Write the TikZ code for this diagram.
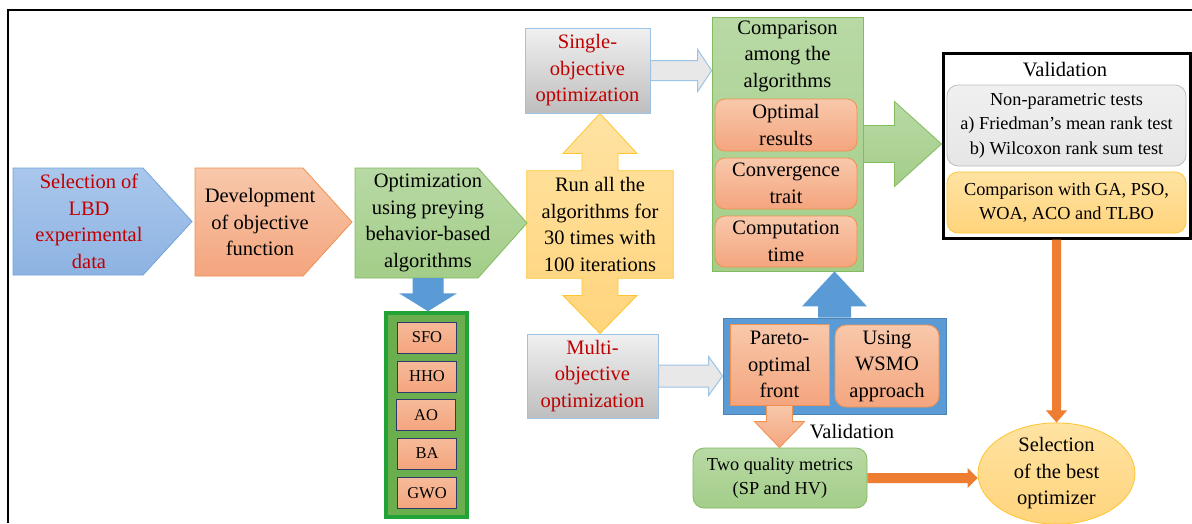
\documentclass[tikz,border=0pt]{standalone}
\usepackage{fontspec}
\setmainfont{Liberation Serif}
\usetikzlibrary{calc,shapes.geometric}

\definecolor{redtxt}{HTML}{C00000}
\definecolor{blueTop}{HTML}{AAC7EC}
\definecolor{blueBot}{HTML}{8DB3E2}
\definecolor{blueLine}{HTML}{6FA5DA}
\definecolor{salTop}{HTML}{F8C8AB}
\definecolor{salBot}{HTML}{F4A57E}
\definecolor{salLine}{HTML}{F0914F}
\definecolor{grnTop}{HTML}{B8D9A4}
\definecolor{grnBot}{HTML}{A3CD89}
\definecolor{grnLine}{HTML}{82BB60}
\definecolor{ylwTop}{HTML}{FFE3A2}
\definecolor{ylwBot}{HTML}{FFD47C}
\definecolor{ylwLine}{HTML}{FFC52E}
\definecolor{gryTop}{HTML}{F0F0F0}
\definecolor{gryBot}{HTML}{BEBEBE}
\definecolor{skyLine}{HTML}{9DC3E6}
\definecolor{solidBlue}{HTML}{5B9BD5}
\definecolor{orangeArr}{HTML}{ED7D31}
\definecolor{listFill}{HTML}{6BAE4E}
\definecolor{listLine}{HTML}{22A338}
\definecolor{navy}{HTML}{2E3A6E}

\pgfdeclarelayer{canvas}
\pgfdeclarelayer{background}
\pgfsetlayers{canvas,background,main}

% block arrows between anchors: [style]{start}{end}{shaft half}{head half}{head length}
\newcommand{\rarrow}[6][]{%
  \path[#1] let \p1=(#2), \p2=(#3) in
    (\x1,\y1+#4pt) -- (\x2-#6pt,\y1+#4pt) -- (\x2-#6pt,\y1+#5pt) -- (\x2,\y1)
    -- (\x2-#6pt,\y1-#5pt) -- (\x2-#6pt,\y1-#4pt) -- (\x1,\y1-#4pt) -- cycle;}
\newcommand{\uarrow}[6][]{%
  \path[#1] let \p1=(#2), \p2=(#3) in
    (\x1-#4pt,\y1) -- (\x1-#4pt,\y2-#6pt) -- (\x1-#5pt,\y2-#6pt) -- (\x1,\y2)
    -- (\x1+#5pt,\y2-#6pt) -- (\x1+#4pt,\y2-#6pt) -- (\x1+#4pt,\y1) -- cycle;}
\newcommand{\darrow}[6][]{%
  \path[#1] let \p1=(#2), \p2=(#3) in
    (\x1-#4pt,\y1) -- (\x1-#4pt,\y2+#6pt) -- (\x1-#5pt,\y2+#6pt) -- (\x1,\y2)
    -- (\x1+#5pt,\y2+#6pt) -- (\x1+#4pt,\y2+#6pt) -- (\x1+#4pt,\y1) -- cycle;}

\begin{document}
\begin{tikzpicture}[x=1pt,y=-1pt,
  txt/.style={font=\fontsize{20.5}{26.5}\selectfont, align=center, inner sep=0pt},
  smalltxt/.style={font=\fontsize{18.3}{24.5}\selectfont, align=center, inner sep=0pt},
  algtxt/.style={font=\fontsize{16.5}{18}\selectfont, align=center, inner sep=0pt},
  bluefill/.style={top color=blueTop, bottom color=blueBot, draw=blueLine, line width=0.8pt},
  salfill/.style={top color=salTop, bottom color=salBot, draw=salLine, line width=0.8pt},
  grnfill/.style={top color=grnTop, bottom color=grnBot, draw=grnLine, line width=0.8pt},
  ylwfill/.style={top color=ylwTop, bottom color=ylwBot, draw=ylwLine, line width=0.8pt},
  gryfill/.style={top color=gryTop, bottom color=gryBot, draw=skyLine, line width=1pt},
  subbox/.style={salfill, rounded corners=10pt, minimum width=142, txt},
  algbox/.style={algtxt, top color=salTop!60!salBot, bottom color=salBot, draw=navy, line width=0.9pt,
    minimum width=59, minimum height=31},
  greyarrow/.style={fill=gryTop!85!gryBot, draw=skyLine, line width=1pt},
]
\useasboundingbox (0,0) rectangle (1192,523);
\begin{pgfonlayer}{canvas}
  \fill[white] (0,0) rectangle (1192,523);
\end{pgfonlayer}

% outer frame
\draw[line width=2.8pt] (8,523) -- (8,10) -- (1192,10);

% first three process steps (pentagon arrows)
\path[bluefill] (13,168) -- (143,168) -- (192,221.5) -- (143,275) -- (13,275) -- cycle;
\path[salfill] (195,168) -- (303,168) -- (352,222) -- (303,276) -- (195,276) -- cycle;
\path[grnfill] (355,168) -- (478,168) -- (527,223) -- (478,278) -- (355,278) -- cycle;

\node[txt, text=redtxt, minimum height=107] (sel) at (89,221.5)
  {Selection of\\LBD\\experimental\\data};
\node[txt, minimum height=108] (dev) at (260,222)
  {Development\\of objective\\function};
\node[txt, minimum height=110] (opt) at (428,223)
  {Optimization\\using preying\\behavior-based\\algorithms};

% single / multi objective
\node[txt, gryfill, text=redtxt, minimum width=125, minimum height=85] (single) at (587.5,70.5)
  {Single-\\objective\\optimization};
\node[txt, gryfill, text=redtxt, minimum width=131, minimum height=84] (multi) at (592.5,376)
  {Multi-\\objective\\optimization};

% run box with its double block arrow, drawn as one outline
\node[txt, minimum width=146, minimum height=107] (run) at (600,224.5)
  {Run all the\\algorithms for\\30 times with\\100 iterations};
\begin{pgfonlayer}{background}
  \path[top color=ylwTop, bottom color=ylwBot, draw=ylwLine, line width=0.8pt]
    let \p1=(run.north west), \p2=(run.south east), \p0=(run.center),
        \p3=(single.south), \p4=(multi.north) in
    (\x1,\y1) -- (\x0-18pt,\y1) -- (\x0-18pt,\y3-40pt) -- (\x0-37pt,\y3-40pt) -- (\x0,\y3)
    -- (\x0+37pt,\y3-40pt) -- (\x0+18pt,\y3-40pt) -- (\x0+18pt,\y1) -- (\x2,\y1)
    -- (\x2,\y2) -- (\x0+18pt,\y2) -- (\x0+18pt,\y4+38pt) -- (\x0+37pt,\y4+38pt) -- (\x0,\y4)
    -- (\x0-37pt,\y4+38pt) -- (\x0-18pt,\y4+38pt) -- (\x0-18pt,\y2) -- (\x1,\y2) -- cycle;
\end{pgfonlayer}

% comparison column
\node[grnfill, minimum width=151, minimum height=254] (comp) at (787.5,144) {};
\node[txt] (comptitle) at (787.5,56) {Comparison\\among the\\algorithms};
\node[subbox, minimum height=52] (optres) at (786,125) {Optimal\\results};
\node[subbox, minimum height=51] (conv) at (786,183.5) {Convergence\\trait};
\node[subbox, minimum height=51] (ctime) at (786,241.5) {Computation\\time};

% validation panel
\node[draw=black, line width=3pt, fill=white, minimum width=247, minimum height=185] (valbox) at (1066.5,145.5) {};
\node[txt] (valtitle) at (1065,70) {Validation};
\node[smalltxt, top color=gryTop, bottom color=gryTop!80!gryBot, draw=gryBot, line width=0.8pt,
  rounded corners=11pt, minimum width=239, minimum height=81] (nonpar) at (1066.5,125.5)
  {Non-parametric tests\\a) Friedman’s mean rank test\\b) Wilcoxon rank sum test};
\node[smalltxt, ylwfill, rounded corners=11pt, minimum width=239, minimum height=61] (cmpwith) at (1066.5,202.5)
  {Comparison with GA, PSO,\\WOA, ACO and TLBO};

% multi-objective results
\node[fill=solidBlue, draw=solidBlue!85!black, line width=0.8pt, minimum width=223, minimum height=96] (bluebox) at (834.5,366) {};
\node[txt, salfill, minimum width=99, minimum height=81] (pareto) at (779.5,364.5) {Pareto-\\optimal\\front};
\node[txt, salfill, rounded corners=11pt, minimum width=104, minimum height=82] (wsmo) at (887,366) {Using\\WSMO\\approach};
\node[txt] (vallabel) at (852,432) {Validation};
\node[smalltxt, grnfill, rounded corners=11pt, minimum width=174, minimum height=60] (twoq) at (780,478)
  {Two quality metrics\\(SP and HV)};

% final selection
\node[ellipse, txt, ylwfill, minimum width=157, minimum height=93] (best) at (1056.5,473.5)
  {Selection\\of the best\\optimizer};

% algorithm list
\node[fill=listFill, draw=listLine, line width=3.5pt, minimum width=81, minimum height=204] (alg) at (426.5,415) {};
\node[algbox] (sfo) at (427,337.5) {SFO};
\node[algbox] (hho) at (427,376.5) {HHO};
\node[algbox] (ao) at (426,415) {AO};
\node[algbox] (ba) at (427,453.5) {BA};
\node[algbox] (gwo) at (427,493) {GWO};

% connecting block arrows
\rarrow[greyarrow]{single.east}{comp.west |- single.east}{10}{21}{14}
\rarrow[greyarrow]{multi.east}{bluebox.west |- multi.east}{11}{19.5}{14}
\rarrow[grnfill]{comp.east}{valbox.west |- comp.east}{18.5}{42.5}{47}
\uarrow[fill=solidBlue]{bluebox.north}{bluebox.north |- comp.south}{16.5}{32.5}{35}
\darrow[salfill]{pareto.south}{pareto.south |- twoq.north}{13}{25}{26}
\darrow[fill=solidBlue]{opt.south}{opt.south |- alg.north}{15.5}{29}{18}
\darrow[fill=orangeArr]{best.north |- valbox.south}{best.north}{4.5}{10.5}{12}
\rarrow[fill=orangeArr]{twoq.east}{best.west |- twoq.east}{5}{10}{10}
\end{tikzpicture}
\end{document}
